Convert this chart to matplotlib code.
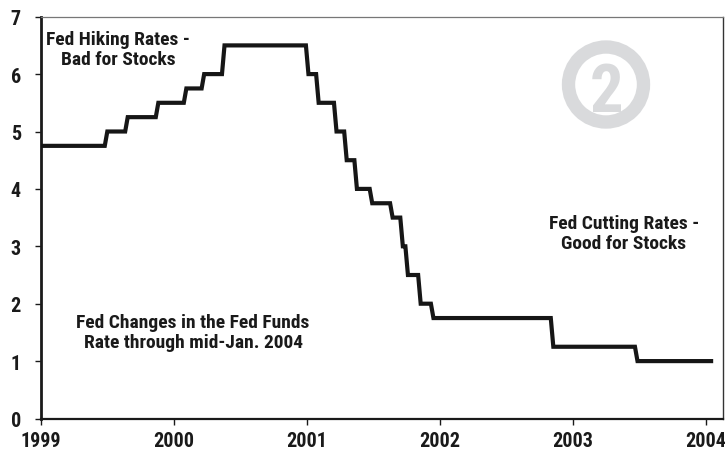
import datetime as dt
import matplotlib
matplotlib.use("Agg")
import matplotlib.pyplot as plt
from matplotlib.patches import Circle

# ---- data: Fed funds target rate changes ----
change_dates = ["1999-01-01", "1999-06-30", "1999-08-24", "1999-11-16", "2000-02-02",
                "2000-03-21", "2000-05-16", "2001-01-03", "2001-01-31", "2001-03-20",
                "2001-04-18", "2001-05-15", "2001-06-27", "2001-08-21", "2001-09-17",
                "2001-10-02", "2001-11-06", "2001-12-11", "2002-11-06", "2003-06-25"]
rates = [4.75, 5.00, 5.25, 5.50, 5.75, 6.00, 6.50, 6.00, 5.50, 5.00,
         4.50, 4.00, 3.75, 3.50, 3.00, 2.50, 2.00, 1.75, 1.25, 1.00]
end_date = "2004-01-15"
year_ticks = [1999, 2000, 2001, 2002, 2003, 2004]
y_ticks = [0, 1, 2, 3, 4, 5, 6, 7]

label_hiking = "Fed Hiking Rates -\nBad for Stocks"
label_cutting = "Fed Cutting Rates -\nGood for Stocks"
label_desc = "Fed Changes in the Fed Funds\nRate through mid-Jan. 2004"
badge = "2"


def dec_year(d):
    start = dt.date(d.year, 1, 1)
    ndays = (dt.date(d.year + 1, 1, 1) - start).days
    return d.year + (d - start).days / ndays


cd = [dt.date.fromisoformat(s) for s in change_dates]
ed = dt.date.fromisoformat(end_date)
# weekly sampling of the step series
weeks = []
d = cd[0]
while d <= ed:
    weeks.append(d)
    d += dt.timedelta(days=7)
weeks.append(ed)
wr = []
for w in weeks:
    r = rates[0]
    for c, v in zip(cd, rates):
        if c <= w:
            r = v
    wr.append(r)
xs = [dec_year(w) for w in weeks]

FONT = ["Roboto Condensed", "Archivo Narrow", "DejaVu Sans"]
plt.rcParams["font.family"] = FONT
plt.rcParams["font.weight"] = "heavy"

W, H = 725, 452
fig = plt.figure(figsize=(W / 100, H / 100), dpi=100)
ax = fig.add_axes([41 / W, 1 - 419.5 / H, (722.5 - 41) / W, (419.5 - 17.7) / H])

ax.plot(xs, wr, color="#161616", lw=3.0, solid_joinstyle="miter", zorder=3)

ax.set_xlim(1999, 2004.124)
ax.set_ylim(0, 7)
ax.set_xticks(year_ticks)
ax.set_xticklabels([str(y) for y in year_ticks])
ax.set_yticks(y_ticks)
ax.tick_params(axis="y", direction="out", length=4, width=1, pad=10.5,
               labelsize=14.5, colors="#1a1a1a")
ax.tick_params(axis="x", direction="out", length=4, width=1, pad=5,
               labelsize=14.5, colors="#1a1a1a")
for lab in ax.get_xticklabels() + ax.get_yticklabels():
    lab.set_fontweight("heavy")

ax.spines["left"].set_linewidth(2)
ax.spines["left"].set_color("#1a1a1a")
ax.spines["bottom"].set_linewidth(1.6)
ax.spines["bottom"].set_color("#1a1a1a")
ax.spines["top"].set_linewidth(0.9)
ax.spines["top"].set_color("#777777")
ax.spines["right"].set_linewidth(1)
ax.spines["right"].set_color("#333333")

tkw = dict(ha="center", va="center", fontsize=14, fontweight="heavy",
           color="#1a1a1a", linespacing=1.15, transform=fig.transFigure)
fig.text(118 / W, 1 - 50 / H, label_hiking, **tkw)
fig.text(624 / W, 1 - 234 / H, label_cutting, **tkw)
fig.text(193 / W, 1 - 333 / H, label_desc, **tkw)

# circled "2" badge
grey = "#d9dadc"
ring = Circle((606 / 100, (H - 85.5) / 100), 0.375, transform=fig.dpi_scale_trans,
              fill=False, edgecolor=grey, linewidth=9.6)
fig.add_artist(ring)
fig.text(607 / W, 1 - 112 / H, badge, ha="center", va="baseline", fontsize=48,
         fontweight="heavy", color=grey)

fig.savefig("out.png", dpi=100)
